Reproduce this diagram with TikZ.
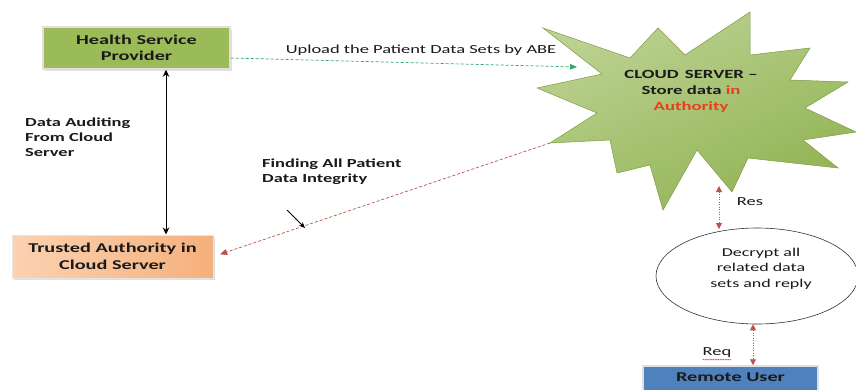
\documentclass[tikz,border=0pt]{standalone}
\usepackage{fontspec}
\setmainfont{Carlito}[FakeStretch=1.5]
\usetikzlibrary{arrows.meta,shadows,shapes.geometric,decorations.pathmorphing}
\definecolor{hspgreen}{HTML}{9BBB59}
\definecolor{upgreen}{HTML}{2EA866}
\definecolor{dashred}{HTML}{C0504D}
\definecolor{authred}{HTML}{E8401C}
\definecolor{userblue}{HTML}{4F81BD}
\definecolor{peachL}{HTML}{FBD2B2}
\definecolor{peachR}{HTML}{F5B07C}
\definecolor{starL}{HTML}{BCD292}
\definecolor{starD}{HTML}{92B353}
\definecolor{starE}{HTML}{7D9C44}
\definecolor{txt}{HTML}{1A1A1A}
\tikzset{
  boxtext/.style={font=\fontsize{13.5}{16.5}\selectfont\bfseries, text=txt, align=center, inner sep=0pt},
  lbl/.style={font=\fontsize{12.3}{15}\selectfont, text=txt, inner sep=0pt},
  blbl/.style={font=\fontsize{12.3}{15}\selectfont\bfseries, text=txt, inner sep=0pt, align=left},
  softshadow/.style={drop shadow={opacity=0.25, shadow xshift=1.5pt, shadow yshift=-1.5pt}},
  greendash/.style={upgreen, dash pattern=on 3pt off 2pt, line width=0.7pt, -{Triangle[length=7pt,width=5.5pt]}},
  reddash/.style={dashred, dash pattern=on 3pt off 2pt, line width=0.7pt, -{Triangle[length=7pt,width=6pt]}},
  reddot/.style={dashred, dash pattern=on 1.2pt off 1.3pt, line width=0.9pt, {Triangle[length=6pt,width=6pt]}-{Triangle[length=6pt,width=6pt]}},
  blackarrow/.style={black, line width=1pt, {Stealth[length=7pt,width=6.5pt]}-{Stealth[length=7pt,width=6.5pt]}}
}
\begin{document}
\begin{tikzpicture}[x=1pt,y=-1pt]
\useasboundingbox (0,0) rectangle (856,389);
\fill[white] (0,0) rectangle (856,389);

% boxes
\node[boxtext, fill=hspgreen, draw=black!12, line width=1.5pt, softshadow,
      minimum width=187pt, minimum height=42pt] (hsp) at (136.5,48) {Health Service\\Provider};
\node[boxtext, left color=peachL, right color=peachR, draw=black!10, line width=1pt, softshadow,
      minimum width=201pt, minimum height=43pt] (ta) at (112.5,256.5) {Trusted Authority in\\Cloud Server};
\node[boxtext, fill=userblue, draw=black!12, line width=1.5pt,
      minimum width=175pt, minimum height=40pt] (ru) at (730.5,386) {};
\node[boxtext] (rut) at (730.5,377.5) {Remote User};

% starburst
\coordinate (s1) at (543,28);
\coordinate (s2) at (658,28);
\coordinate (s3) at (750,12);
\coordinate (s4) at (810,48);
\coordinate (s5) at (848,82);
\coordinate (s6) at (856,132);
\coordinate (s7) at (838,168);
\coordinate (s8) at (732,192);
\coordinate (s9) at (663,210);
\coordinate (s10) at (617,173);
\coordinate (s11) at (550,143);
\coordinate (s12) at (537,88);
\shade[top color=starL, bottom color=starD, shading angle=25, draw=starE, line width=0.5pt]
  (s1) -- (630,58) -- (s2) -- (685,55) -- (s3) -- (750,55) -- (s4) -- (790,80) -- (s5)
  -- (805,108) -- (s6) -- (803,140) -- (s7) -- (748,158) -- (s8) -- (697,150) -- (s9)
  -- (650,165) -- (s10) -- (610,140) -- (s11) -- (597,113) -- (s12) -- (602,74) -- cycle;
\node[boxtext, font=\fontsize{12.5}{16}\selectfont\bfseries] (cloud) at (691,91)
  {CLOUD\enspace SERVER --\\Store data \textcolor{authred}{in}\\\textcolor{authred}{Authority}};

% ellipse
\node[ellipse, draw=black!80, line width=0.6pt, minimum width=202pt, minimum height=96pt, inner sep=0pt] (ell) at (757,276) {};
\node[lbl, align=center, font=\fontsize{12}{15.3}\selectfont] (elltext) at (761,268.5) {Decrypt all\\related data\\sets and reply};

% labels
\node[lbl] (upl) at (421,50) {Upload the Patient Data Sets by ABE};
\node[blbl, anchor=west] (aud) at (25,137) {Data Auditing\\From Cloud\\Server};
\node[blbl, anchor=west] (find) at (262,171.5) {Finding All Patient\\Data Integrity};
\node[lbl] (res) at (750,202) {Res};
\node[lbl] (req) at (717,353) {Req};
\draw[red!80, decorate, decoration={snake, amplitude=0.5pt, segment length=2.5pt}, line width=0.4pt]
  ([yshift=-1.5pt]req.south west) -- ([yshift=-1.5pt]req.south east);

% connectors
\coordinate (vx) at (166,0);
\draw[blackarrow] (hsp.south -| vx) -- (ta.north -| vx);
\coordinate (upend) at (577,67);
\draw[greendash] (hsp.east |- 0,58) -- (upend);
\draw[reddash, shorten >=7pt] (s11) -- (ta.east);
\coordinate (pa) at (287,210);
\coordinate (pb) at (305,228);
\draw[black, line width=0.9pt, -{Stealth[length=6pt,width=5pt]}] (pa) -- (pb);
\coordinate (resTop) at (719,186);
\coordinate (resBot) at (719,229);
\draw[reddot] (resTop) -- (resBot);
\coordinate (qx) at (753,0);
\draw[reddot] (ell.south -| qx) -- (ru.north -| qx);
\end{tikzpicture}
\end{document}
